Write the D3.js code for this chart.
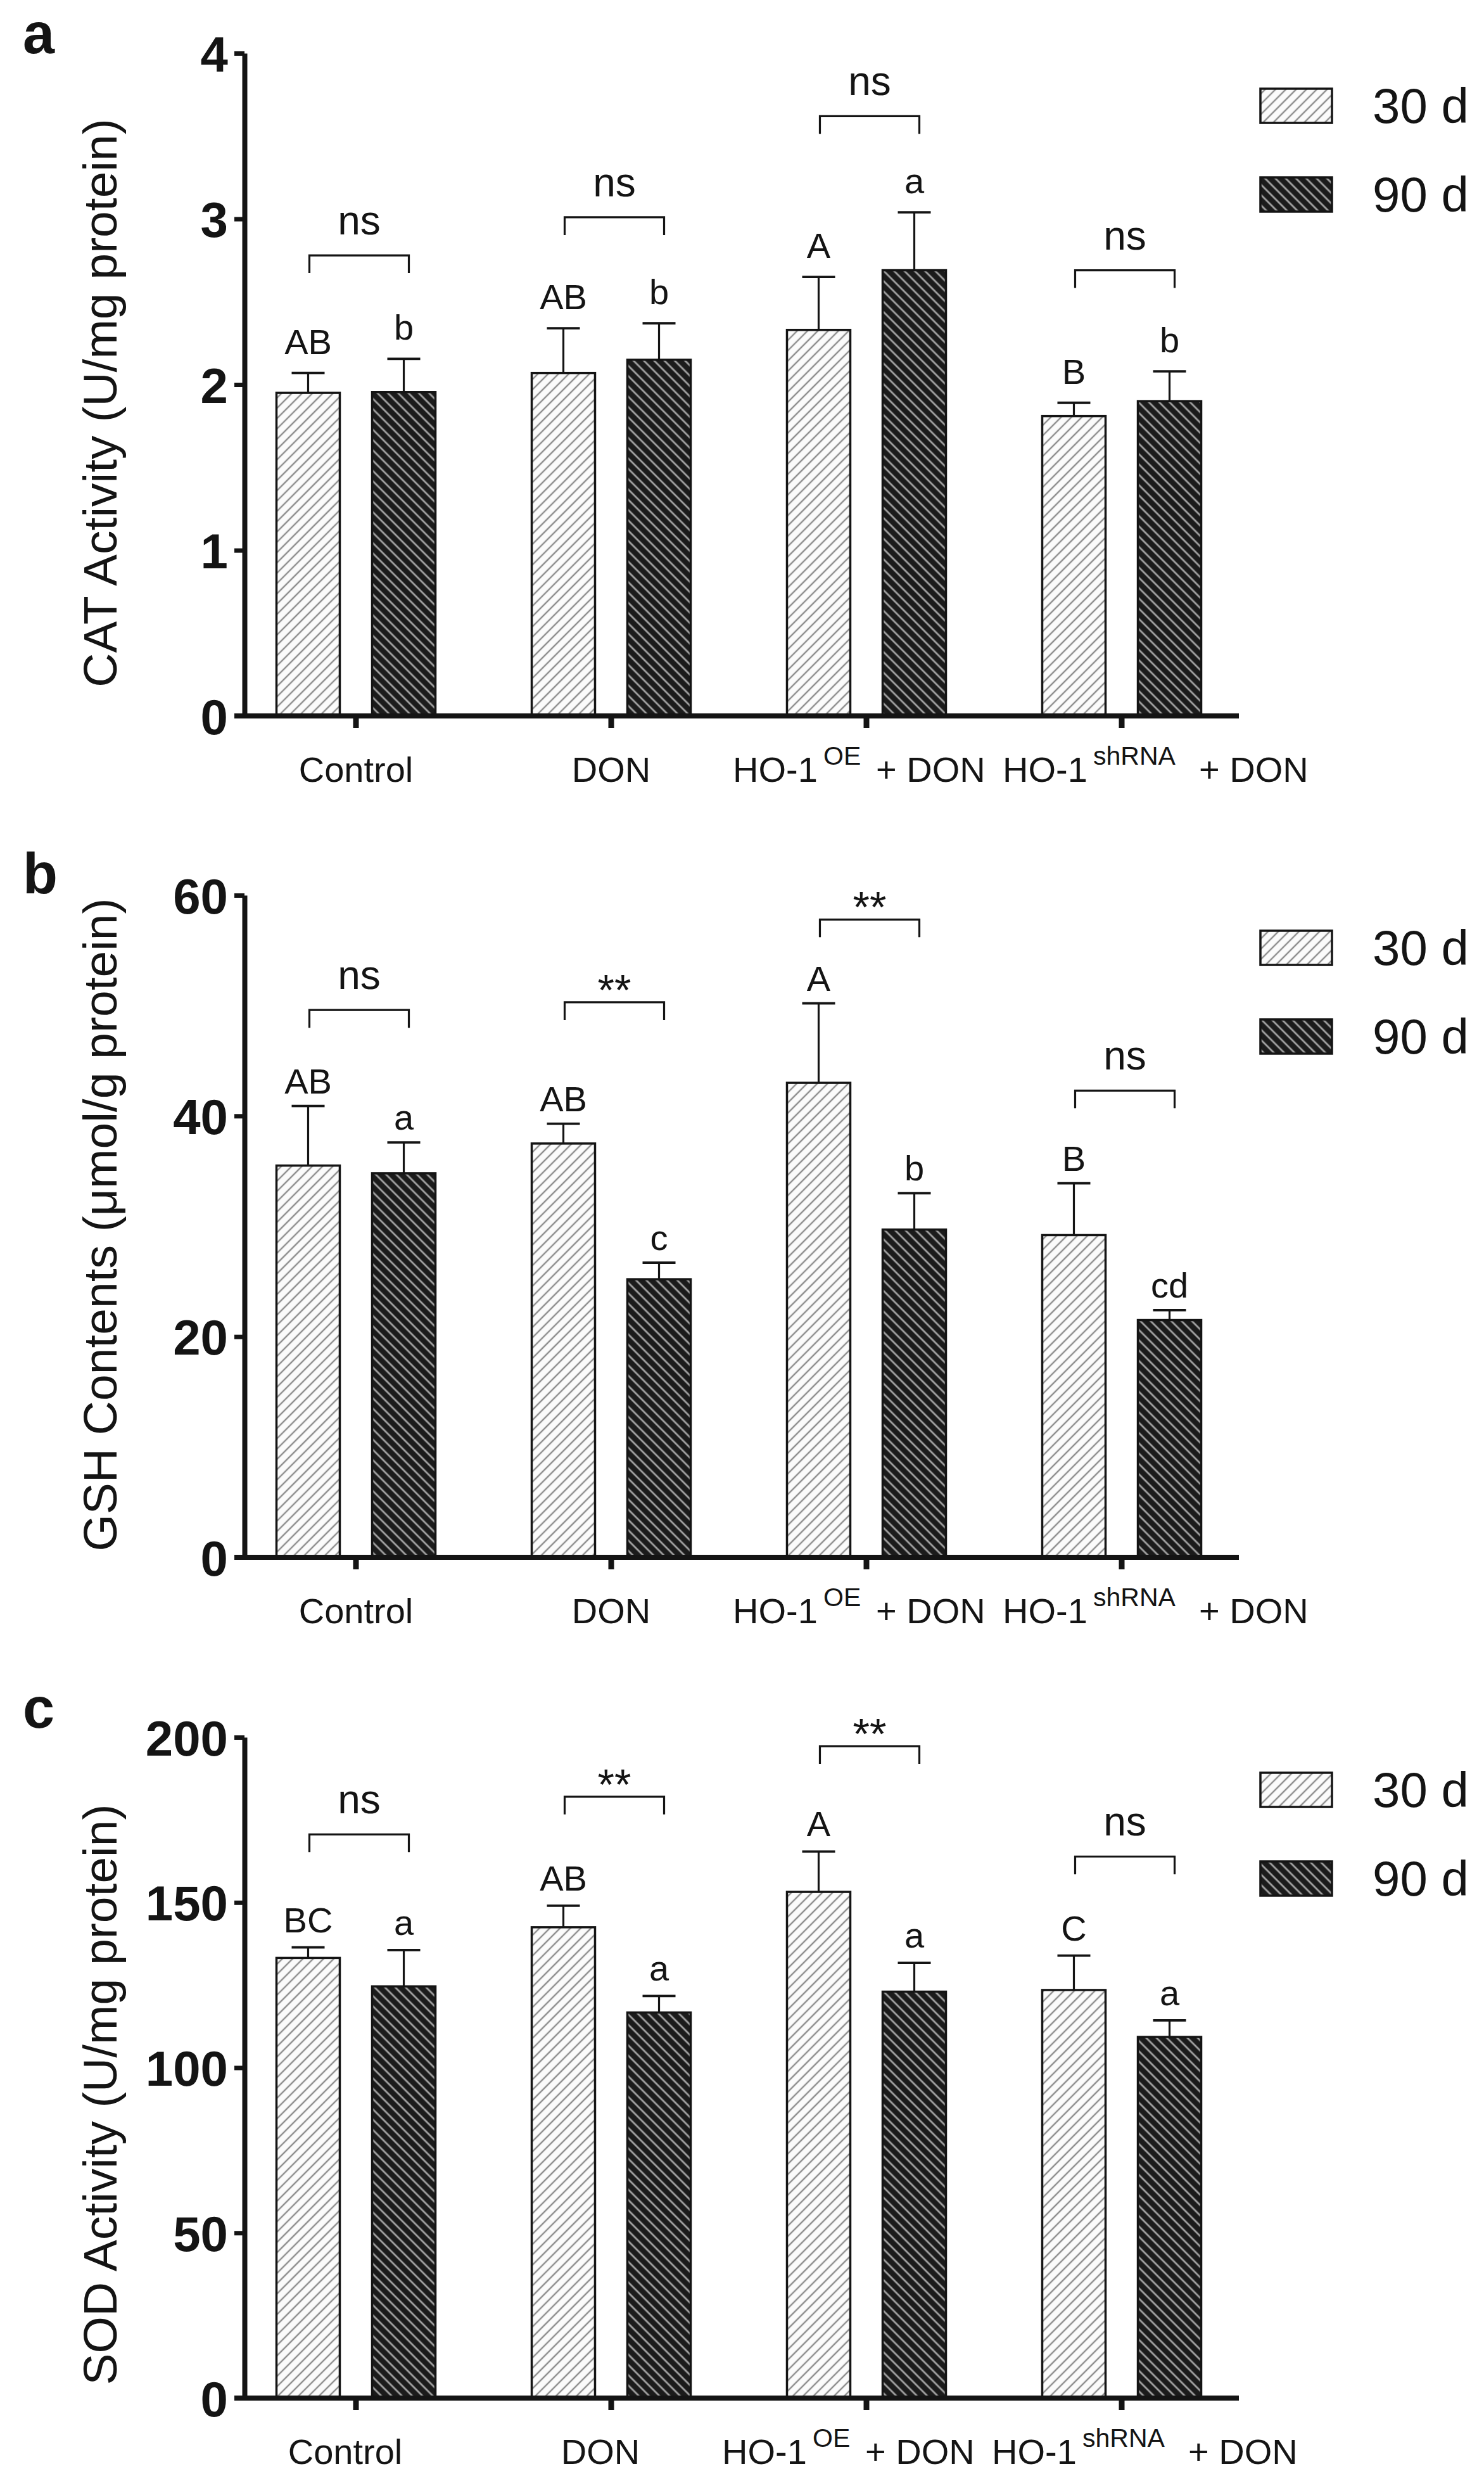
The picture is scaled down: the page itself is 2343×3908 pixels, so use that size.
<!DOCTYPE html>
<html>
<head>
<meta charset="utf-8">
<script src="https://cdn.jsdelivr.net/npm/d3@7"></script>
<style>
  body { margin: 0; background: #fff; }
  svg { display: block; }
  text { font-family: "Liberation Sans", Arial, sans-serif; fill: #141414; }
</style>
</head>
<body>
<div id="chart"></div>
<script>
// Groups and series
const groups = ["Control", "DON", "HO-1 OE + DON", "HO-1 shRNA + DON"];
const series = ["30 d", "90 d"];

// Panel a: CAT activity (U/mg protein)
const catTicks = [0, 1, 2, 3, 4];
const catMean30 = [1.95, 2.07, 2.33, 1.81];
const catErr30 = [0.12, 0.27, 0.32, 0.08];
const catMean90 = [1.955, 2.15, 2.69, 1.90];
const catErr90 = [0.20, 0.22, 0.35, 0.18];
const catLetters30 = ["AB", "AB", "A", "B"];
const catLetters90 = ["b", "b", "a", "b"];
const catBracket = [2.78, 3.01, 3.62, 2.69];
const catSig = ["ns", "ns", "ns", "ns"];

// Panel b: GSH contents (umol/g protein)
const gshTicks = [0, 20, 40, 60];
const gshMean30 = [35.5, 37.5, 43.0, 29.2];
const gshErr30 = [5.4, 1.8, 7.2, 4.7];
const gshMean90 = [34.8, 25.2, 29.7, 21.5];
const gshErr90 = [2.8, 1.5, 3.3, 0.9];
const gshLetters30 = ["AB", "AB", "A", "B"];
const gshLetters90 = ["a", "c", "b", "cd"];
const gshBracket = [49.6, 50.3, 57.8, 42.3];
const gshSig = ["ns", "**", "**", "ns"];

// Panel c: SOD activity (U/mg protein)
const sodTicks = [0, 50, 100, 150, 200];
const sodMean30 = [133.2, 142.5, 153.2, 123.5];
const sodErr30 = [3.2, 6.5, 12.2, 10.4];
const sodMean90 = [124.6, 116.7, 123.0, 109.3];
const sodErr90 = [11.0, 5.0, 8.7, 5.0];
const sodLetters30 = ["BC", "AB", "A", "C"];
const sodLetters90 = ["a", "a", "a", "a"];
const sodBracket = [170.6, 182.0, 197.3, 163.9];
const sodSig = ["ns", "**", "**", "ns"];

// x label pieces (text, offset from group centre, superscript?)
const groupLabelParts = [
  [{ t: "Control", center: true }],
  [{ t: "DON", center: true }],
  [{ t: "HO-1", dx: -211 }, { t: "OE", dx: -68, sup: true }, { t: "+ DON", dx: 15 }],
  [{ t: "HO-1", dx: -188 }, { t: "shRNA", dx: -45, sup: true }, { t: "+ DON", dx: 122 }]
];

const panels = [
  { letter: "a", title: "CAT Activity (U/mg protein)", max: 4, ticks: catTicks,
    m30: catMean30, e30: catErr30, m90: catMean90, e90: catErr90,
    l30: catLetters30, l90: catLetters90, br: catBracket, sig: catSig,
    top: 84, bottom: 1130, titleY: 636, letterY: 84, gap: 30, shift: 0 },
  { letter: "b", title: "GSH Contents (\u03bcmol/g protein)", max: 60, ticks: gshTicks,
    m30: gshMean30, e30: gshErr30, m90: gshMean90, e90: gshErr90,
    l30: gshLetters30, l90: gshLetters90, br: gshBracket, sig: gshSig,
    top: 1413, bottom: 2458, titleY: 1933, letterY: 1410, gap: 20, shift: 0 },
  { letter: "c", title: "SOD Activity (U/mg protein)", max: 200, ticks: sodTicks,
    m30: sodMean30, e30: sodErr30, m90: sodMean90, e90: sodErr90,
    l30: sodLetters30, l90: sodLetters90, br: sodBracket, sig: sodSig,
    top: 2742, bottom: 3785, titleY: 3306, letterY: 2727, gap: 24, shift: -17 }
];

const W = 2343, H = 3908;
const axisX = 386;
const ink = "#141414";

const svg = d3.select("#chart").append("svg")
  .attr("width", W)
  .attr("height", H);

svg.append("rect").attr("width", W).attr("height", H).attr("fill", "#fff");

// Hatch fills
const defs = svg.append("defs");
function hatch(id, bg, fg, angle, sw) {
  const s = 11.5;
  const p = defs.append("pattern")
    .attr("id", id)
    .attr("patternUnits", "userSpaceOnUse")
    .attr("width", s)
    .attr("height", s)
    .attr("patternTransform", `rotate(${angle})`);
  p.append("rect").attr("width", s).attr("height", s).attr("fill", bg);
  p.append("line")
    .attr("x1", s / 2).attr("x2", s / 2)
    .attr("y1", -1).attr("y2", s + 1)
    .attr("stroke", fg)
    .attr("stroke-width", sw);
}
hatch("h30", "#fbfbfb", "#8c8c8c", 45, 2.4);
hatch("h90", "#1b1b1b", "#a3a3a3", -45, 2.8);
const fills = { "30 d": "url(#h30)", "90 d": "url(#h90)" };

// Shared x scales
const x0 = d3.scaleBand().domain(groups).range([360.5, 1972.5]);
const x1 = d3.scaleBand().domain(series).range([-125.5, 125.5]).paddingInner(0.338);
const gc = g => x0(g) + x0.bandwidth() / 2;
const bc = (g, s) => gc(g) + x1(s) + x1.bandwidth() / 2;

panels.forEach(function(p) {
  const g = svg.append("g");
  const y = d3.scaleLinear().domain([0, p.max]).range([p.bottom, p.top]);

  const rows = [];
  groups.forEach(function(grp, i) {
    rows.push({ grp: grp, s: "30 d", v: p.m30[i], e: p.e30[i], lab: p.l30[i] });
    rows.push({ grp: grp, s: "90 d", v: p.m90[i], e: p.e90[i], lab: p.l90[i] });
  });

  // Bars
  g.selectAll("rect.bar")
    .data(rows)
    .enter()
    .append("rect")
    .attr("class", "bar")
    .attr("x", d => gc(d.grp) + x1(d.s))
    .attr("width", x1.bandwidth())
    .attr("y", d => y(d.v))
    .attr("height", d => y(0) - y(d.v))
    .attr("fill", d => fills[d.s])
    .attr("stroke", ink)
    .attr("stroke-width", 3.5);

  // Error bars (upper only)
  g.selectAll("line.err")
    .data(rows)
    .enter()
    .append("line")
    .attr("class", "err")
    .attr("x1", d => bc(d.grp, d.s))
    .attr("x2", d => bc(d.grp, d.s))
    .attr("y1", d => y(d.v))
    .attr("y2", d => y(d.v + d.e))
    .attr("stroke", ink)
    .attr("stroke-width", 3.2);

  g.selectAll("line.cap")
    .data(rows)
    .enter()
    .append("line")
    .attr("class", "cap")
    .attr("x1", d => bc(d.grp, d.s) - 26)
    .attr("x2", d => bc(d.grp, d.s) + 26)
    .attr("y1", d => y(d.v + d.e))
    .attr("y2", d => y(d.v + d.e))
    .attr("stroke", ink)
    .attr("stroke-width", 3.8);

  // Group letters
  g.selectAll("text.lab")
    .data(rows)
    .enter()
    .append("text")
    .attr("class", "lab")
    .attr("x", d => bc(d.grp, d.s))
    .attr("y", d => y(d.v + d.e) - p.gap)
    .attr("text-anchor", "middle")
    .attr("font-size", 56)
    .text(d => d.lab);

  // Significance brackets
  groups.forEach(function(grp, i) {
    const xa = bc(grp, "30 d") + 2, xb = bc(grp, "90 d") + 8;
    const yb = y(p.br[i]);
    g.append("path")
      .attr("d", `M${xa},${yb + 28}V${yb}H${xb}V${yb + 28}`)
      .attr("fill", "none")
      .attr("stroke", ink)
      .attr("stroke-width", 3.2);
    const isStar = p.sig[i] === "**";
    g.append("text")
      .attr("x", (xa + xb) / 2)
      .attr("y", isStar ? yb + 4 : yb - 33)
      .attr("text-anchor", "middle")
      .attr("font-size", isStar ? 68 : 64)
      .text(p.sig[i]);
  });

  // Y axis
  const yAxis = g.append("g")
    .attr("transform", `translate(${axisX},0)`)
    .call(d3.axisLeft(y)
      .tickValues(p.ticks)
      .tickFormat(d3.format("d"))
      .tickSize(16)
      .tickSizeOuter(0)
      .tickPadding(10));
  yAxis.select(".domain").attr("stroke", ink).attr("stroke-width", 8);
  yAxis.selectAll(".tick line").attr("stroke", ink).attr("stroke-width", 7);
  yAxis.selectAll(".tick text")
    .attr("font-size", 78)
    .attr("font-weight", "bold")
    .attr("fill", ink)
    .attr("dy", "0.36em")
    .attr("font-family", "Liberation Sans, Arial, sans-serif");

  // X axis
  const xAxis = g.append("g")
    .attr("transform", `translate(0,${p.bottom})`)
    .call(d3.axisBottom(x0).tickSize(19).tickSizeOuter(0).tickFormat(""));
  xAxis.select(".domain").remove();
  xAxis.selectAll(".tick line").attr("stroke", ink).attr("stroke-width", 9);
  g.append("line")
    .attr("x1", 370).attr("x2", 1956)
    .attr("y1", p.bottom).attr("y2", p.bottom)
    .attr("stroke", ink)
    .attr("stroke-width", 8);

  // X labels
  groups.forEach(function(grp, i) {
    const cx = gc(grp) + p.shift;
    const parts = groupLabelParts[i];
    const t = g.append("text")
      .attr("y", p.bottom + 104)
      .attr("font-size", 56);
    if (parts.length === 1) {
      t.attr("x", cx).attr("text-anchor", "middle").text(parts[0].t);
    } else {
      parts.forEach(function(pt) {
        t.append("tspan")
          .attr("x", cx + pt.dx)
          .attr("y", p.bottom + 104 - (pt.sup ? 27 : 0))
          .attr("font-size", pt.sup ? 41 : 56)
          .text(pt.t);
      });
    }
  });

  // Y title
  g.append("text")
    .attr("transform", `translate(184,${p.titleY}) rotate(-90)`)
    .attr("text-anchor", "middle")
    .attr("font-size", 75)
    .text(p.title);

  // Panel letter
  g.append("text")
    .attr("x", 36)
    .attr("y", p.letterY)
    .attr("font-size", 90)
    .attr("font-weight", "bold")
    .text(p.letter);

  // Legend
  series.forEach(function(s, k) {
    const ly = p.top + 56 + k * 140;
    g.append("rect")
      .attr("x", 1990)
      .attr("y", ly)
      .attr("width", 113)
      .attr("height", 54)
      .attr("fill", fills[s])
      .attr("stroke", ink)
      .attr("stroke-width", 3.5);
    g.append("text")
      .attr("x", 2167)
      .attr("y", ly + 54)
      .attr("font-size", 78)
      .text(s);
  });
});
</script>
</body>
</html>
